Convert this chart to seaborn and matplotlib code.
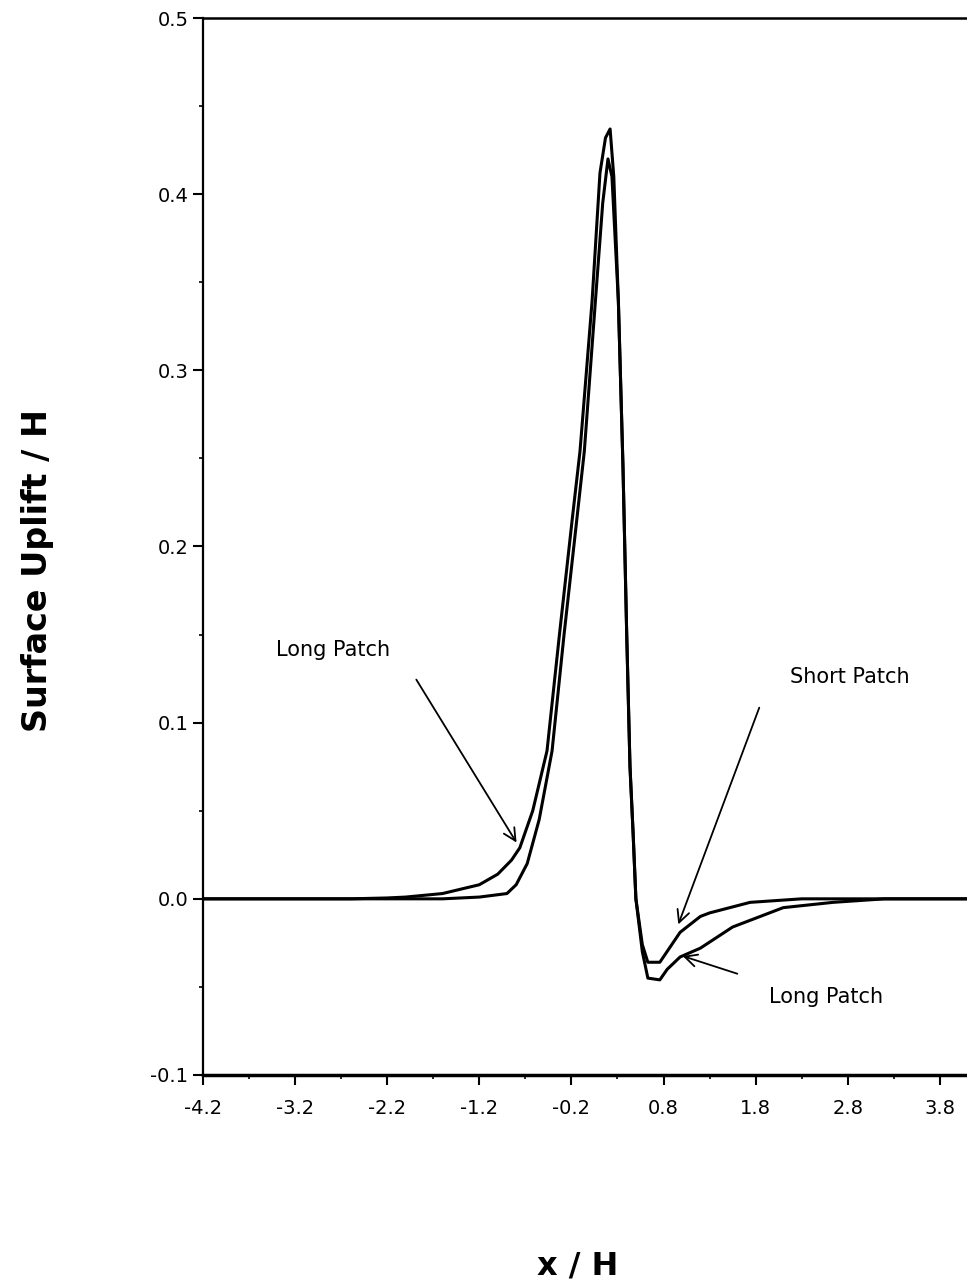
import numpy as np
import pandas as pd
import seaborn as sns
import matplotlib.pyplot as plt
from matplotlib.ticker import MultipleLocator, FixedLocator

# values
long_x = [-4.2, -3.2, -2.6, -2.2, -2.0, -1.6, -1.2, -1.0, -0.85, -0.76, -0.62,
          -0.465, -0.33, -0.19, -0.107, 0.024, 0.11, 0.17, 0.22, 0.26, 0.31,
          0.36, 0.40, 0.436, 0.47, 0.50, 0.57, 0.63, 0.76, 0.84, 0.98, 1.2,
          1.55, 2.1, 2.64, 3.2, 4.2]
long_y = [0.0, 0.0, 0.0, 0.0005, 0.001, 0.003, 0.008, 0.014, 0.022, 0.029, 0.05,
          0.084, 0.15, 0.216, 0.254, 0.339, 0.412, 0.432, 0.437, 0.41, 0.339,
          0.245, 0.151, 0.075, 0.037, 0.0, -0.03, -0.045, -0.046, -0.040, -0.033, -0.028,
          -0.016, -0.005, -0.002, 0.0, 0.0]

short_x = [-4.2, -2.2, -1.6, -1.2, -0.9, -0.8, -0.68, -0.55, -0.41, -0.28, -0.14,
           -0.06, 0.06, 0.14, 0.197, 0.24, 0.31, 0.36, 0.40, 0.436, 0.47, 0.50,
           0.57, 0.63, 0.76, 0.98, 1.2, 1.3, 1.74, 2.3, 4.2]
short_y = [0.0, 0.0, 0.0, 0.001, 0.003, 0.008, 0.02, 0.045, 0.084, 0.15, 0.216,
           0.254, 0.339, 0.395, 0.42, 0.41, 0.339, 0.245, 0.151, 0.075, 0.037, 0.0,
           -0.026, -0.036, -0.036, -0.019, -0.010, -0.008, -0.002, 0.0, 0.0]

x_ticks = [-4.2, -3.2, -2.2, -1.2, -0.2, 0.8, 1.8, 2.8, 3.8]
x_labels = ["-4.2", "-3.2", "-2.2", "-1.2", "-0.2", "0.8", "1.8", "2.8", "3.8"]
y_ticks = [-0.1, 0.0, 0.1, 0.2, 0.3, 0.4, 0.5]
y_labels = ["-0.1", "0.0", "0.1", "0.2", "0.3", "0.4", "0.5"]

sns.set_style("ticks")
plt.rcParams["font.family"] = ["DejaVu Sans"]
plt.rcParams["text.color"] = "black"

df = pd.concat([
    pd.DataFrame({"x": long_x, "y": long_y, "patch": "Long"}),
    pd.DataFrame({"x": short_x, "y": short_y, "patch": "Short"}),
])

fig = plt.figure(figsize=(9.67, 12.87), dpi=100)
ax = fig.add_axes([203 / 967, 212 / 1287, 764 / 967, 1057 / 1287])

sns.lineplot(data=df, x="x", y="y", units="patch", estimator=None, sort=False,
             color="black", linewidth=2.2, ax=ax, legend=False)

ax.set_xlim(-4.2, 4.095)
ax.set_ylim(-0.1, 0.5)
ax.xaxis.set_major_locator(FixedLocator(x_ticks))
ax.set_xticklabels(x_labels)
ax.xaxis.set_minor_locator(FixedLocator([t + 0.5 for t in x_ticks]))
ax.set_yticks(y_ticks)
ax.set_yticklabels(y_labels)
ax.yaxis.set_minor_locator(MultipleLocator(0.05))

ax.tick_params(axis="both", which="major", direction="out", length=7, width=1.5,
               labelsize=14, color="black", labelcolor="black")
ax.tick_params(axis="both", which="minor", direction="out", length=3, width=1.2,
               color="black")
ax.tick_params(axis="x", pad=10)

for side in ["left", "bottom", "top"]:
    ax.spines[side].set_visible(True)
    ax.spines[side].set_color("black")
ax.spines["left"].set_linewidth(1.6)
ax.spines["bottom"].set_linewidth(2.5)
ax.spines["top"].set_linewidth(1.8)
ax.spines["right"].set_visible(False)

ax.set_xlabel("")
ax.set_ylabel("")
fig.text(38 / 967, 1 - 570 / 1287, "Surface Uplift / H", rotation=90,
         ha="center", va="center", fontsize=24, fontweight="bold", color="black")
fig.text(578 / 967, 1 - 1266 / 1287, "x / H", ha="center", va="center",
         fontsize=23, fontweight="bold", color="black")

arrow = dict(arrowstyle="->", color="black", lw=1.3, mutation_scale=22)
ax.text(-2.79, 0.141, "Long Patch", ha="center", va="center", fontsize=15,
        color="black")
ax.annotate("", xy=(-0.78, 0.0306), xytext=(-1.90, 0.1258), arrowprops=arrow)
ax.text(2.825, 0.126, "Short Patch", ha="center", va="center", fontsize=15,
        color="black")
ax.annotate("", xy=(0.95, -0.016), xytext=(1.85, 0.110), arrowprops=arrow)
ax.text(2.56, -0.0555, "Long Patch", ha="center", va="center", fontsize=15,
        color="black")
ax.annotate("", xy=(0.98, -0.032), xytext=(1.63, -0.043), arrowprops=arrow)

fig.savefig("out.png", dpi=100, facecolor="white")
